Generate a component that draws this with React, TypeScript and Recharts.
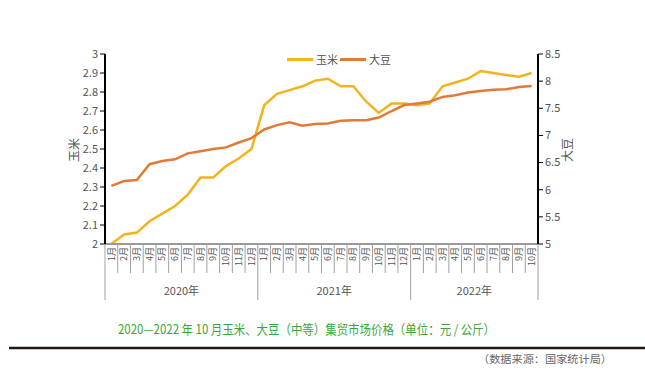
import { LineChart, Line, XAxis, YAxis } from "recharts";

const MONTHS = [
  "1月", "2月", "3月", "4月", "5月", "6月", "7月", "8月", "9月", "10月", "11月", "12月",
  "1月", "2月", "3月", "4月", "5月", "6月", "7月", "8月", "9月", "10月", "11月", "12月",
  "1月", "2月", "3月", "4月", "5月", "6月", "7月", "8月", "9月", "10月",
];
const YEARS = ["2020年", "2021年", "2022年"];
const YEAR_STARTS = [0, 12, 24];

// 玉米 (左轴)
const CORN = [
  2.0, 2.05, 2.06, 2.12, 2.16, 2.2, 2.26, 2.35, 2.35, 2.41, 2.45, 2.5,
  2.73, 2.79, 2.81, 2.83, 2.86, 2.87, 2.83, 2.83, 2.75, 2.69, 2.74, 2.74,
  2.73, 2.74, 2.83, 2.85, 2.87, 2.91, 2.9, 2.89, 2.88, 2.9,
];
// 大豆 (右轴)
const SOY = [
  6.07, 6.16, 6.18, 6.47, 6.53, 6.56, 6.67, 6.71, 6.75, 6.78, 6.87, 6.95,
  7.11, 7.19, 7.24, 7.18, 7.21, 7.22, 7.27, 7.28, 7.28, 7.33, 7.45, 7.56,
  7.59, 7.62, 7.71, 7.74, 7.79, 7.82, 7.84, 7.85, 7.89, 7.91,
];
const LEFT_TICKS = [2, 2.1, 2.2, 2.3, 2.4, 2.5, 2.6, 2.7, 2.8, 2.9, 3];
const RIGHT_TICKS = [5, 5.5, 6, 6.5, 7, 7.5, 8, 8.5];
const SERIES = [
  { name: "玉米", color: "#f2b31f" },
  { name: "大豆", color: "#e27a36" },
];

const FONT = "'Noto Sans CJK SC', 'Noto Sans', sans-serif";

const PLOT_LEFT = 105;
const PLOT_RIGHT = 538;
const BAND = (PLOT_RIGHT - PLOT_LEFT) / MONTHS.length;

const data = MONTHS.map((m, i) => ({
  key: `${i}`,
  month: m,
  corn: CORN[i],
  soy: SOY[i],
}));

function MonthTick(props: any) {
  const { x, y, index } = props;
  const left = x - BAND / 2;
  const yearIdx = YEAR_STARTS.indexOf(index);
  const isLast = index === MONTHS.length - 1;
  return (
    <g>
      <line
        x1={left}
        x2={left}
        y1={y}
        y2={yearIdx >= 0 ? y + 56 : y + 29}
        stroke="#a0a0a0"
        strokeWidth={1}
      />
      {isLast && (
        <line x1={x + BAND / 2} x2={x + BAND / 2} y1={y} y2={y + 56} stroke="#a0a0a0" strokeWidth={1} />
      )}
      <text
        x={x}
        y={y + 3}
        transform={`rotate(-90, ${x}, ${y + 3})`}
        textAnchor="end"
        dy="0.35em"
        fontSize={9}
        fill="#555"
        fontFamily={FONT}
      >
        {MONTHS[index]}
      </text>
      {yearIdx >= 0 && (
        <text
          x={left + ((YEAR_STARTS[yearIdx + 1] ?? MONTHS.length) - index) * BAND / 2}
          y={y + 51}
          textAnchor="middle"
          fontSize={11}
          fill="#555"
          fontFamily={FONT}
        >
          {YEARS[yearIdx]}
        </text>
      )}
    </g>
  );
}

export default function App() {
  return (
    <div style={{ position: "absolute", left: 0, top: 0, width: 645, height: 376, background: "#fff" }}>
      <LineChart
        width={645}
        height={376}
        data={data}
        margin={{ top: 54, right: 0, bottom: 72, left: 0 }}
      >
        <XAxis
          dataKey="key"
          height={60}
          interval={0}
          padding={{ left: BAND / 2, right: BAND / 2 }}
          axisLine={{ stroke: "#9a9a9a", strokeWidth: 2 }}
          tickLine={false}
          tickSize={0}
          tickMargin={0}
          tick={<MonthTick />}
        />
        <YAxis
          yAxisId="left"
          width={PLOT_LEFT}
          domain={[2, 3]}
          ticks={LEFT_TICKS}
          interval={0}
          axisLine={{ stroke: "#000", strokeWidth: 2 }}
          tickLine={{ stroke: "#000" }}
          tickSize={5}
          tick={{ fill: "#555", fontSize: 11, fontFamily: FONT }}
          tickFormatter={(v: number) => `${v}`}
        />
        <YAxis
          yAxisId="right"
          orientation="right"
          width={645 - PLOT_RIGHT}
          domain={[5, 8.5]}
          ticks={RIGHT_TICKS}
          interval={0}
          axisLine={{ stroke: "#000", strokeWidth: 2 }}
          tickLine={{ stroke: "#000" }}
          tickSize={5}
          tick={{ fill: "#555", fontSize: 11, fontFamily: FONT }}
          tickFormatter={(v: number) => `${v}`}
        />
        <Line
          yAxisId="left"
          dataKey="corn"
          name={SERIES[0].name}
          stroke={SERIES[0].color}
          strokeWidth={2.5}
          dot={false}
          isAnimationActive={false}
        />
        <Line
          yAxisId="right"
          dataKey="soy"
          name={SERIES[1].name}
          stroke={SERIES[1].color}
          strokeWidth={2.5}
          dot={false}
          isAnimationActive={false}
        />
      </LineChart>
      <div
        style={{
          position: "absolute",
          left: 287,
          top: 51,
          display: "flex",
          fontFamily: FONT,
          fontSize: 11,
          lineHeight: "16px",
          color: "#555",
        }}
      >
        {SERIES.map((it) => (
          <div key={it.name} style={{ display: "flex", alignItems: "center", marginRight: 2 }}>
            <span style={{ width: 26, height: 3, background: it.color, display: "inline-block", marginRight: 3 }} />
            <span>{it.name}</span>
          </div>
        ))}
      </div>
      <svg
        width={645}
        height={376}
        style={{ position: "absolute", left: 0, top: 0, pointerEvents: "none" }}
      >
        <text x={75} y={150} transform="rotate(-90, 75, 150)" textAnchor="middle" dy="0.35em" fontSize={12} fill="#555" fontFamily={FONT}>
          玉米
        </text>
        <text x={568} y={150} transform="rotate(-90, 568, 150)" textAnchor="middle" dy="0.35em" fontSize={12} fill="#555" fontFamily={FONT}>
          大豆
        </text>
        <text
          x={118}
          y={334}
          textLength={377}
          lengthAdjust="spacingAndGlyphs"
          fontSize={13}
          fill="#3aa63a"
          fontFamily={FONT}
        >
          2020—2022 年 10 月玉米、大豆（中等）集贸市场价格（单位：元 / 公斤）
        </text>
        <line x1={9} x2={645} y1={348} y2={348} stroke="#231815" strokeWidth={2.5} />
        <text x={478} y={363} textLength={134} lengthAdjust="spacingAndGlyphs" fontSize={10.5} fill="#666" fontFamily={FONT}>
          （数据来源：国家统计局）
        </text>
      </svg>
    </div>
  );
}
